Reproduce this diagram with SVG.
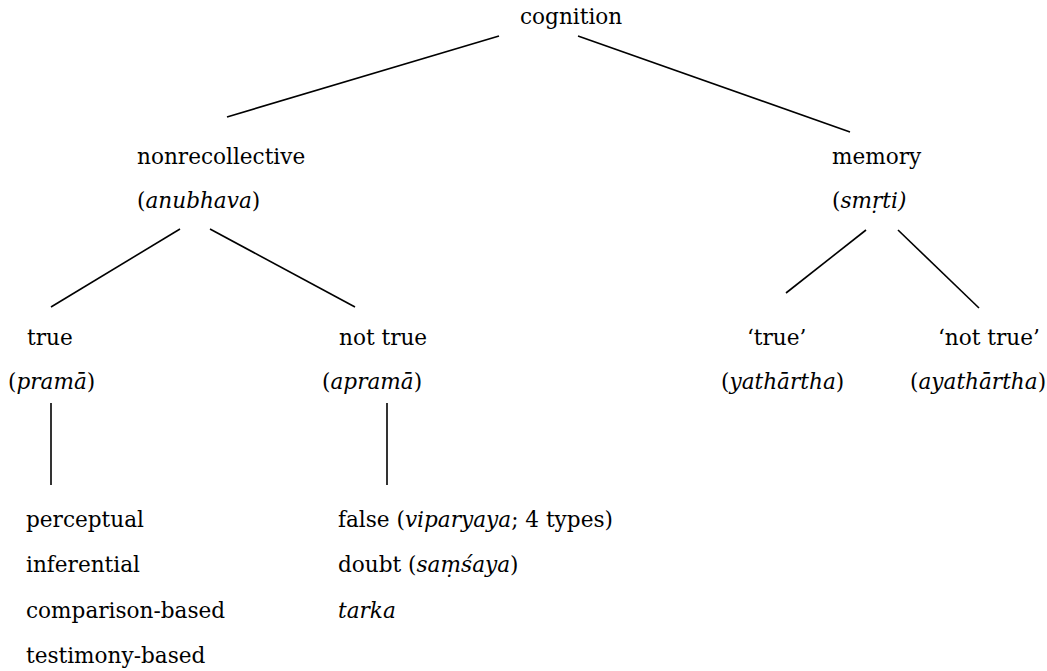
<svg xmlns="http://www.w3.org/2000/svg" width="1047" height="671" viewBox="0 0 1047 671">
<style>
text{font-family:"DejaVu Serif","Liberation Serif",serif;font-size:21.6px;fill:#000}
.i{font-style:italic}
line{stroke:#000;stroke-width:1.6}
</style>
<rect width="1047" height="671" fill="#fff"/>
<g id="connectors">
<line x1="499" y1="36" x2="227" y2="117"/>
<line x1="578" y1="36" x2="850" y2="132"/>
<line x1="180" y1="229" x2="51" y2="307"/>
<line x1="210" y1="229" x2="355" y2="307"/>
<line x1="866" y1="230" x2="786" y2="293"/>
<line x1="898" y1="230" x2="979" y2="308"/>
<line x1="51" y1="403" x2="51" y2="485"/>
<line x1="387" y1="403" x2="387" y2="485"/>
</g>
<g id="cognition"><text x="520" y="24">cognition</text></g>
<g id="nonrecollective"><text x="137" y="164">nonrecollective</text><text x="137" y="208">(<tspan class="i">anubhava</tspan>)</text></g>
<g id="memory"><text x="832" y="164">memory</text><text x="832" y="208">(<tspan class="i">smṛti)</tspan></text></g>
<g id="true"><text x="27" y="345">true</text><text x="8" y="389">(<tspan class="i">pramā</tspan>)</text></g>
<g id="nottrue"><text x="339" y="345">not true</text><text x="322" y="389">(<tspan class="i">apramā</tspan>)</text></g>
<g id="mtrue"><text x="747" y="345">‘true’</text><text x="721" y="389">(<tspan class="i">yathārtha</tspan>)</text></g>
<g id="mnottrue"><text x="938" y="345">‘not true’</text><text x="910" y="389">(<tspan class="i">ayathārtha</tspan>)</text></g>
<g id="pramatypes"><text x="26" y="527">perceptual</text><text x="26" y="572">inferential</text><text x="26" y="618">comparison-based</text><text x="26" y="663">testimony-based</text></g>
<g id="apramatypes"><text x="338" y="527">false (<tspan class="i">viparyaya</tspan>; 4 types)</text><text x="338" y="572">doubt (<tspan class="i">saṃśaya</tspan>)</text><text x="338" y="618" class="i">tarka</text></g>
</svg>
